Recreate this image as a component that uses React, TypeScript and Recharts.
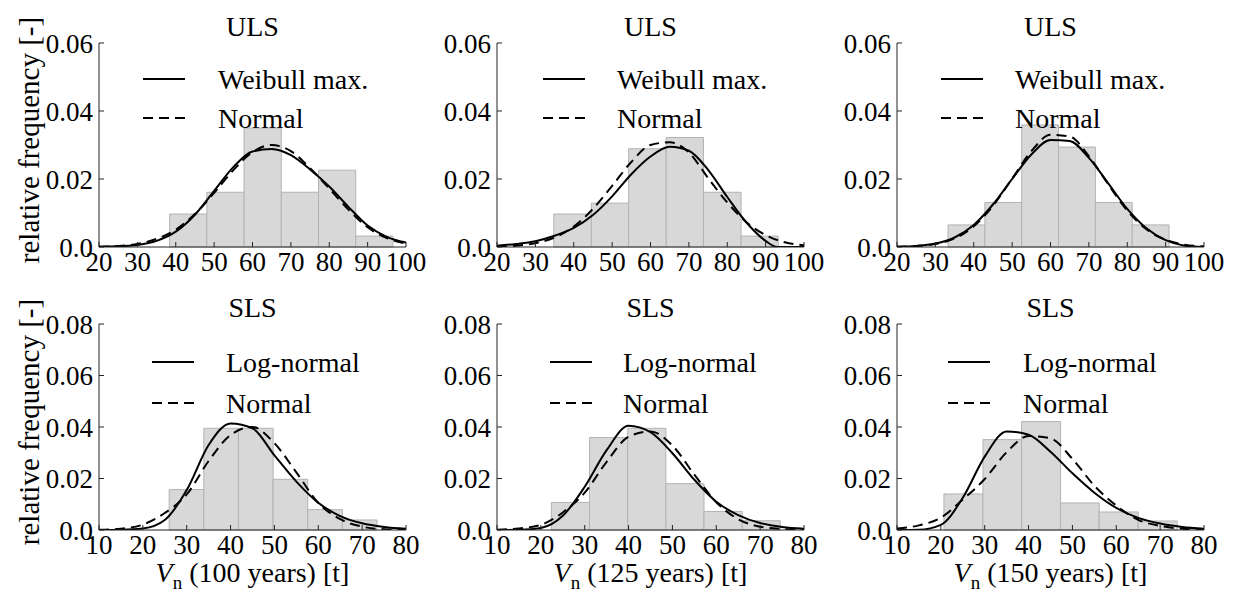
import React from "react";
import { ComposedChart, Line, XAxis, YAxis, ReferenceArea, Legend } from "recharts";

const FONT = '"Liberation Serif", "Times New Roman", serif';
const FRAME = "#222";

// axis ticks
const ULS_X_TICKS = [20, 30, 40, 50, 60, 70, 80, 90, 100];
const SLS_X_TICKS = [10, 20, 30, 40, 50, 60, 70, 80];
const ULS_Y_TICKS = [0, 0.02, 0.04, 0.06];
const SLS_Y_TICKS = [0, 0.02, 0.04, 0.06, 0.08];

// histogram bin edges and relative frequencies
const ULS100_EDGES = [38.4, 48.1, 57.8, 67.5, 77.2, 86.9, 96.6];
const ULS100_FREQ = [0.0097, 0.0161, 0.035, 0.0161, 0.0226, 0.0032];
const ULS125_EDGES = [34.8, 44.6, 54.3, 64.1, 73.8, 83.6, 93.3];
const ULS125_FREQ = [0.0097, 0.0129, 0.0289, 0.0322, 0.0161, 0.0032];
const ULS150_EDGES = [33.3, 42.9, 52.5, 62.1, 71.7, 81.3, 90.9];
const ULS150_FREQ = [0.0065, 0.0131, 0.0359, 0.0294, 0.0131, 0.0065];
const SLS100_EDGES = [26.0, 33.9, 41.8, 49.7, 57.6, 65.5, 73.4];
const SLS100_FREQ = [0.0157, 0.0395, 0.0395, 0.0197, 0.0079, 0.0039];
const SLS125_EDGES = [22.4, 31.1, 39.8, 48.5, 57.2, 65.9, 74.6];
const SLS125_FREQ = [0.0107, 0.0359, 0.0395, 0.018, 0.0072, 0.0036];
const SLS150_EDGES = [20.7, 29.6, 38.4, 47.3, 56.1, 65.0, 73.9];
const SLS150_FREQ = [0.014, 0.0351, 0.0421, 0.0105, 0.007, 0.0035];

// fitted densities, sampled along x
const ULS_CURVE_X = [20, 25, 30, 35, 40, 45, 50, 55, 60, 65, 70, 75, 80, 85, 90, 95, 100];
const SLS_CURVE_X = [10, 15, 20, 25, 30, 35, 40, 45, 50, 55, 60, 65, 70, 75, 80];
const ULS125_WEIBULL_X = [20, 25, 30, 35, 40, 45, 50, 55, 60, 65, 70, 75, 80, 85, 90, 93, 95, 100];

const ULS100_WEIBULL = [0.0001, 0.0002, 0.0006, 0.0018, 0.0045, 0.0095, 0.0165, 0.0235, 0.0281, 0.0288, 0.027, 0.0228, 0.0178, 0.0118, 0.0063, 0.003, 0.0013];
const ULS100_NORMAL = [0.0001, 0.0003, 0.0009, 0.0024, 0.0051, 0.0097, 0.0159, 0.0226, 0.0279, 0.03, 0.0282, 0.0232, 0.0172, 0.011, 0.0058, 0.0026, 0.001];
const ULS125_WEIBULL = [0.0004, 0.0009, 0.0017, 0.0033, 0.0056, 0.0094, 0.0149, 0.0214, 0.0266, 0.0295, 0.0283, 0.0227, 0.0147, 0.0072, 0.0018, 0, 0, 0];
const ULS125_NORMAL = [0.0001, 0.0004, 0.0011, 0.0028, 0.006, 0.0112, 0.018, 0.025, 0.03, 0.0308, 0.0278, 0.0203, 0.0131, 0.0073, 0.0035, 0.0014, 0.0005];
const ULS150_WEIBULL = [0.0001, 0.0003, 0.001, 0.0028, 0.0065, 0.0125, 0.02, 0.0272, 0.0315, 0.0312, 0.0262, 0.0188, 0.0112, 0.0055, 0.002, 0.0004, 0];
const ULS150_NORMAL = [0.0001, 0.0003, 0.0009, 0.0025, 0.0061, 0.0121, 0.0201, 0.0282, 0.033, 0.0325, 0.0267, 0.0185, 0.0107, 0.0052, 0.0021, 0.0007, 0.0002];

const SLS100_LOGNORMAL = [0, 0.0001, 0.0006, 0.0039, 0.0155, 0.033, 0.0414, 0.0395, 0.029, 0.0188, 0.0106, 0.0054, 0.0026, 0.0012, 0.0005];
const SLS100_NORMAL = [0.0001, 0.0005, 0.0021, 0.0066, 0.0138, 0.0268, 0.0369, 0.04, 0.0337, 0.0224, 0.0105, 0.0042, 0.0013, 0.0003, 0.0001];
const SLS125_LOGNORMAL = [0, 0.0001, 0.0008, 0.0055, 0.0168, 0.031, 0.0405, 0.038, 0.0298, 0.0195, 0.011, 0.0058, 0.0027, 0.0012, 0.0005];
const SLS125_NORMAL = [0.0001, 0.0006, 0.002, 0.0068, 0.0145, 0.0265, 0.0362, 0.0383, 0.0328, 0.0215, 0.0108, 0.0042, 0.0013, 0.0004, 0.0001];
const SLS150_LOGNORMAL = [0, 0.0001, 0.002, 0.0125, 0.0285, 0.0383, 0.037, 0.0304, 0.022, 0.0145, 0.0086, 0.0047, 0.0025, 0.0012, 0.0005];
const SLS150_NORMAL = [0.0006, 0.0018, 0.0048, 0.0118, 0.0198, 0.0302, 0.0365, 0.0356, 0.0276, 0.0172, 0.0095, 0.0039, 0.0016, 0.0005, 0.0002];

const toPoints = (xs: number[], ys: number[]) => xs.map((x, i) => ({ x, y: ys[i] }));

// layout of one subplot (plot area in page pixels)
const ML = 90;
const MT = 40;
const MR = 30;
const XH = 40;
const PLOT_W = 307;

const PANELS = [
  { title: "ULS", left: 99, top: 43, h: 204, xDomain: [20, 100], xTicks: ULS_X_TICKS, yDomain: [0, 0.06], yTicks: ULS_Y_TICKS, edges: ULS100_EDGES, freq: ULS100_FREQ, fit: "Weibull max.", fitX: ULS_CURVE_X, fitY: ULS100_WEIBULL, normX: ULS_CURVE_X, normY: ULS100_NORMAL, legX: 44, legY: 36, legRow: 39, legGap: 33, yLabel: true, years: null },
  { title: "ULS", left: 497, top: 43, h: 204, xDomain: [20, 100], xTicks: ULS_X_TICKS, yDomain: [0, 0.06], yTicks: ULS_Y_TICKS, edges: ULS125_EDGES, freq: ULS125_FREQ, fit: "Weibull max.", fitX: ULS125_WEIBULL_X, fitY: ULS125_WEIBULL, normX: ULS_CURVE_X, normY: ULS125_NORMAL, legX: 46, legY: 36, legRow: 39, legGap: 32, yLabel: false, years: null },
  { title: "ULS", left: 897, top: 43, h: 204, xDomain: [20, 100], xTicks: ULS_X_TICKS, yDomain: [0, 0.06], yTicks: ULS_Y_TICKS, edges: ULS150_EDGES, freq: ULS150_FREQ, fit: "Weibull max.", fitX: ULS_CURVE_X, fitY: ULS150_WEIBULL, normX: ULS_CURVE_X, normY: ULS150_NORMAL, legX: 44, legY: 36, legRow: 39, legGap: 32, yLabel: false, years: null },
  { title: "SLS", left: 99, top: 324, h: 206, xDomain: [10, 80], xTicks: SLS_X_TICKS, yDomain: [0, 0.08], yTicks: SLS_Y_TICKS, edges: SLS100_EDGES, freq: SLS100_FREQ, fit: "Log-normal", fitX: SLS_CURVE_X, fitY: SLS100_LOGNORMAL, normX: SLS_CURVE_X, normY: SLS100_NORMAL, legX: 53, legY: 38, legRow: 41, legGap: 32, yLabel: true, years: 100 },
  { title: "SLS", left: 497, top: 324, h: 206, xDomain: [10, 80], xTicks: SLS_X_TICKS, yDomain: [0, 0.08], yTicks: SLS_Y_TICKS, edges: SLS125_EDGES, freq: SLS125_FREQ, fit: "Log-normal", fitX: SLS_CURVE_X, fitY: SLS125_LOGNORMAL, normX: SLS_CURVE_X, normY: SLS125_NORMAL, legX: 53, legY: 38, legRow: 41, legGap: 31, yLabel: false, years: 125 },
  { title: "SLS", left: 897, top: 324, h: 206, xDomain: [10, 80], xTicks: SLS_X_TICKS, yDomain: [0, 0.08], yTicks: SLS_Y_TICKS, edges: SLS150_EDGES, freq: SLS150_FREQ, fit: "Log-normal", fitX: SLS_CURVE_X, fitY: SLS150_LOGNORMAL, normX: SLS_CURVE_X, normY: SLS150_NORMAL, legX: 51, legY: 38, legRow: 41, legGap: 33, yLabel: false, years: 150 },
];

const tickStyle = { fill: "#000", fontSize: 27, fontFamily: FONT };
const yFmt = (v: number) => (v === 0 ? "0.0" : v.toFixed(2));

function FitLegend({ payload, row, gap }: any) {
  // fitted distribution first, normal below it
  const items = [...(payload || [])].sort((a: any, b: any) => (a.value === "Normal" ? 1 : 0) - (b.value === "Normal" ? 1 : 0));
  return (
    <div style={{ fontFamily: FONT, fontSize: 28, color: "#000" }}>
      {items.map((e: any) => (
        <div key={e.value} style={{ display: "flex", alignItems: "center", height: row, lineHeight: `${row}px`, whiteSpace: "nowrap" }}>
          <svg width={42} height={6} style={{ marginRight: gap, flex: "none" }}>
            <line x1={0} y1={3} x2={42} y2={3} stroke="#000" strokeWidth={2} strokeDasharray={e.payload?.strokeDasharray} />
          </svg>
          <span>{e.value}</span>
        </div>
      ))}
    </div>
  );
}

function Panel({ p }: any) {
  const width = ML + PLOT_W + MR;
  const height = MT + p.h + XH;
  const bins = p.freq.map((f: number, i: number) => ({ x1: p.edges[i], x2: p.edges[i + 1], y: f }));
  return (
    <div style={{ position: "absolute", left: p.left - ML, top: p.top - MT, width, height }}>
      <ComposedChart width={width} height={height} margin={{ top: MT, right: MR, bottom: 0, left: 0 }}>
        <XAxis dataKey="x" type="number" domain={p.xDomain} ticks={p.xTicks} allowDataOverflow height={XH}
          axisLine={{ stroke: FRAME }} tickLine={{ stroke: FRAME }} tickSize={-5} tickMargin={10} tick={tickStyle} interval={0} />
        <XAxis xAxisId="top" orientation="top" type="number" domain={p.xDomain} ticks={p.xTicks} allowDataOverflow height={0}
          axisLine={{ stroke: FRAME }} tickLine={{ stroke: FRAME }} tickSize={-5} tick={false} interval={0} />
        <YAxis type="number" domain={p.yDomain} ticks={p.yTicks} allowDataOverflow width={ML}
          axisLine={{ stroke: FRAME }} tickLine={{ stroke: FRAME }} tickSize={-5} tickMargin={11} tick={tickStyle}
          tickFormatter={yFmt} interval={0} />
        <YAxis yAxisId="right" orientation="right" type="number" domain={p.yDomain} ticks={p.yTicks} allowDataOverflow width={0}
          axisLine={{ stroke: FRAME }} tickLine={{ stroke: FRAME }} tickSize={-5} tick={false} interval={0} />
        {bins.map((b: any, i: number) => (
          <ReferenceArea key={i} x1={b.x1} x2={b.x2} y1={0} y2={b.y} fill="#d8d8d8" fillOpacity={1}
            stroke="#b3b3b3" strokeWidth={1} ifOverflow="visible" />
        ))}
        <Line data={toPoints(p.fitX, p.fitY)} dataKey="y" name={p.fit} type="monotone" stroke="#000" strokeWidth={2}
          dot={false} activeDot={false} isAnimationActive={false} />
        <Line data={toPoints(p.normX, p.normY)} dataKey="y" name="Normal" type="monotone" stroke="#000" strokeWidth={2}
          strokeDasharray="10 6" dot={false} activeDot={false} isAnimationActive={false} />
        <Legend layout="horizontal" verticalAlign="middle" align="center"
          wrapperStyle={{ left: ML + p.legX, top: MT + p.legY - p.legRow / 2, width: "auto" }}
          content={(props: any) => <FitLegend {...props} row={p.legRow} gap={p.legGap} />} />
      </ComposedChart>
    </div>
  );
}

const textBase: React.CSSProperties = {
  position: "absolute", height: 28, lineHeight: "28px", textAlign: "center",
  fontFamily: FONT, fontSize: 28, color: "#000", whiteSpace: "nowrap",
};

export default function App() {
  return (
    <div style={{ position: "absolute", left: 0, top: 0, width: 1235, height: 598, background: "#fff", overflow: "hidden" }}>
      {PANELS.map((p, i) => (
        <React.Fragment key={i}>
          <Panel p={p} />
          <div style={{ ...textBase, left: p.left, width: PLOT_W, top: p.top - 30 }}>{p.title}</div>
          {p.yLabel && (
            <div style={{ ...textBase, fontSize: 29, left: 29 - 140, width: 280, top: p.top + p.h / 2 - 5 - 14, transform: "rotate(-90deg)" }}>
              relative frequency [-]
            </div>
          )}
          {p.years !== null && (
            <div style={{ ...textBase, left: p.left, width: PLOT_W, top: 559 }}>
              <i>V</i>
              <span style={{ fontSize: 19, position: "relative", top: 7 }}>n</span> ({p.years} years) [t]
            </div>
          )}
        </React.Fragment>
      ))}
    </div>
  );
}
